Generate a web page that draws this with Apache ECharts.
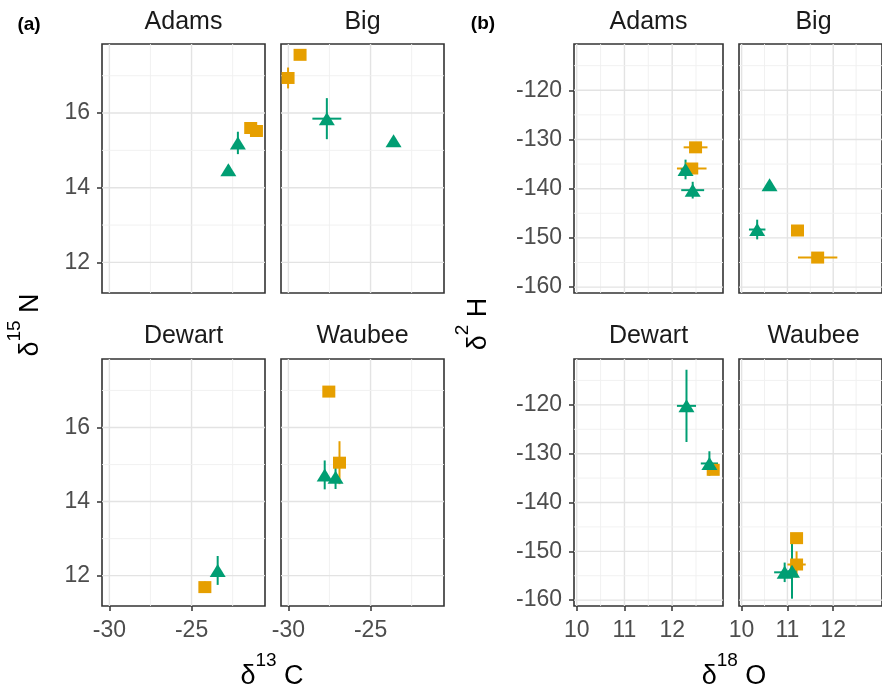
<!DOCTYPE html>
<html>
<head>
<meta charset="utf-8">
<script src="https://cdn.jsdelivr.net/npm/echarts@6/dist/echarts.min.js"></script>
<style>
  html, body { margin: 0; padding: 0; background: #fff; }
  #chart { width: 882px; height: 689px; }
</style>
</head>
<body>
<div id="chart"></div>
<script>
// facets, in reading order
const sites = ['Adams', 'Big', 'Dewart', 'Waubee'];

// (a) d13C / d15N points: [x, y, xErr, yErr]
const cnAdamsSq = [[-21.4, 15.6, 0.1, 0.08], [-21.05, 15.52, 0.1, 0.08]];
const cnAdamsTri = [[-22.18, 15.2, 0.1, 0.3], [-22.76, 14.48, 0.1, 0.12]];
const cnBigSq = [[-29.29, 17.56, 0.1, 0.05], [-30.02, 16.94, 0.05, 0.28]];
const cnBigTri = [[-27.66, 15.85, 0.88, 0.55], [-23.6, 15.26, 0.1, 0.05]];
const cnDewartSq = [[-24.19, 11.69, 0.05, 0.15]];
const cnDewartTri = [[-23.41, 12.14, 0.05, 0.39]];
const cnWaubeeSq = [[-27.54, 16.97, 0.05, 0.05], [-26.89, 15.05, 0.35, 0.58]];
const cnWaubeeTri = [[-27.79, 14.72, 0.05, 0.39], [-27.13, 14.66, 0.15, 0.32]];

// (b) d18O / d2H points: [x, y, xErr, yErr]
const ohAdamsSq = [[12.49, -131.6, 0.25, 0.5], [12.41, -135.9, 0.31, 0.5]];
const ohAdamsTri = [[12.28, -136.1, 0.1, 2.0], [12.43, -140.3, 0.24, 1.7]];
const ohBigSq = [[11.22, -148.5, 0.05, 0.5], [11.66, -154.0, 0.43, 0.5]];
const ohBigTri = [[10.61, -139.2, 0.05, 0.5], [10.34, -148.3, 0.18, 2.0]];
const ohDewartSq = [[12.86, -133.3, 0.08, 1.0]];
const ohDewartTri = [[12.30, -120.2, 0.2, 7.4], [12.78, -132.0, 0.18, 2.5]];
const ohWaubeeSq = [[11.20, -147.3, 0.05, 0.5], [11.20, -152.7, 0.2, 2.7]];
const ohWaubeeTri = [[11.10, -154.1, 0.1, 5.6], [10.94, -154.3, 0.23, 2.0]];

// tick labels and grid breaks
const cnXTicks = [-30, -25];
const cnXMinor = [-27.5, -22.5];
const cnYTicks = [12, 14, 16];
const cnYMinor = [13, 15, 17];
const ohXTicks = [10, 11, 12];
const ohXMinor = [10.5, 11.5, 12.5];
const ohYTicks = [-160, -150, -140, -130, -120];
const ohYMinor = [-155, -145, -135, -125, -115];

const font = '"Liberation Sans", Arial, sans-serif';
const orange = '#E69F00';
const green = '#009E73';

const panels = [
  {
    xMin: -30.45, xMax: -20.53, yMin: 11.18, yMax: 17.85,
    xTicks: cnXTicks, xMinor: cnXMinor, yTicks: cnYTicks, yMinor: cnYMinor,
    lefts: [102, 281], width: 163,
    sq: [cnAdamsSq, cnBigSq, cnDewartSq, cnWaubeeSq],
    tri: [cnAdamsTri, cnBigTri, cnDewartTri, cnWaubeeTri]
  },
  {
    xMin: 9.943, xMax: 13.065, yMin: -161.2, yMax: -110.6,
    xTicks: ohXTicks, xMinor: ohXMinor, yTicks: ohYTicks, yMinor: ohYMinor,
    lefts: [574, 739], width: 149,
    sq: [ohAdamsSq, ohBigSq, ohDewartSq, ohWaubeeSq],
    tri: [ohAdamsTri, ohBigTri, ohDewartTri, ohWaubeeTri]
  }
];
const tops = [44, 359];
const heights = [249, 247];

const grids = [], xAxes = [], yAxes = [], series = [], graphics = [];

function errBars(params, api) {
  const x = api.value(0), y = api.value(1), ex = api.value(2), ey = api.value(3);
  const c = api.visual('color');
  const v0 = api.coord([x, y - ey]), v1 = api.coord([x, y + ey]);
  const h0 = api.coord([x - ex, y]), h1 = api.coord([x + ex, y]);
  return {
    type: 'group',
    children: [
      { type: 'line', shape: { x1: v0[0], y1: v0[1], x2: v1[0], y2: v1[1] }, style: { stroke: c, lineWidth: 2 } },
      { type: 'line', shape: { x1: h0[0], y1: h0[1], x2: h1[0], y2: h1[1] }, style: { stroke: c, lineWidth: 2 } }
    ]
  };
}

function gridLines(p) {
  return function (params, api) {
    const cs = params.coordSys;
    const v = api.value(0), horiz = api.value(1), major = api.value(2);
    const style = { stroke: major ? '#e3e3e3' : '#efefef', lineWidth: major ? 1.4 : 0.9 };
    if (horiz) {
      const py = api.coord([p.xMin, v])[1];
      return { type: 'line', shape: { x1: cs.x, y1: py, x2: cs.x + cs.width, y2: py }, style: style };
    }
    const px = api.coord([v, p.yMin])[0];
    return { type: 'line', shape: { x1: px, y1: cs.y, x2: px, y2: cs.y + cs.height }, style: style };
  };
}

panels.forEach(function (p, pi) {
  const lineData = []
    .concat(p.xTicks.map(v => [v, 0, 1]), p.xMinor.map(v => [v, 0, 0]))
    .concat(p.yTicks.map(v => [v, 1, 1]), p.yMinor.map(v => [v, 1, 0]));
  sites.forEach(function (site, si) {
    const col = si % 2, row = Math.floor(si / 2);
    const gi = grids.length;
    grids.push({
      left: p.lefts[col], top: tops[row], width: p.width, height: heights[row],
      show: true, borderColor: '#333', borderWidth: 1.6, backgroundColor: 'transparent'
    });
    xAxes.push({
      type: 'value', gridIndex: gi, min: p.xMin, max: p.xMax,
      axisLine: { show: false }, splitLine: { show: false },
      axisTick: { show: row === 1, length: 5, lineStyle: { color: '#333', width: 1.5 }, customValues: p.xTicks },
      axisLabel: { show: row === 1, customValues: p.xTicks, margin: 13, color: '#4d4d4d', fontSize: 23, fontFamily: font }
    });
    yAxes.push({
      type: 'value', gridIndex: gi, min: p.yMin, max: p.yMax,
      axisLine: { show: false }, splitLine: { show: false },
      axisTick: { show: col === 0, length: 5, lineStyle: { color: '#333', width: 1.5 }, customValues: p.yTicks },
      axisLabel: { show: col === 0, customValues: p.yTicks, margin: 12, color: '#4d4d4d', fontSize: 23, fontFamily: font }
    });
    series.push({
      type: 'custom', xAxisIndex: gi, yAxisIndex: gi, silent: true, z: 1,
      renderItem: gridLines(p), data: lineData
    });
    series.push({
      type: 'custom', xAxisIndex: gi, yAxisIndex: gi, z: 2,
      itemStyle: { color: orange }, renderItem: errBars, data: p.sq[si]
    });
    series.push({
      type: 'custom', xAxisIndex: gi, yAxisIndex: gi, z: 2,
      itemStyle: { color: green }, renderItem: errBars, data: p.tri[si]
    });
    series.push({
      type: 'scatter', xAxisIndex: gi, yAxisIndex: gi, z: 3,
      symbol: 'rect', symbolSize: [13, 12], itemStyle: { color: orange, opacity: 1 },
      data: p.sq[si].map(d => [d[0], d[1]])
    });
    series.push({
      type: 'scatter', xAxisIndex: gi, yAxisIndex: gi, z: 3,
      symbol: 'triangle', symbolSize: [16, 13], itemStyle: { color: green, opacity: 1 },
      data: p.tri[si].map(d => [d[0], d[1]])
    });
    graphics.push({
      type: 'text', x: p.lefts[col] + p.width / 2, y: row === 0 ? 22.5 : 336.5,
      style: { text: site, fontSize: 25, fontFamily: font, fill: '#1a1a1a', align: 'center', verticalAlign: 'middle' }
    });
  });
});

function titleRich() {
  return {
    d: { fontSize: 27, fontFamily: font, lineHeight: 28, padding: [12, 0, 0, 0], color: '#000' },
    s: { fontSize: 19, fontFamily: font, lineHeight: 20, padding: [0, 0, 20, 0], color: '#000' }
  };
}

graphics.push(
  { type: 'text', x: 29, y: 25, style: { text: '(a)', fontSize: 19, fontWeight: 'bold', fontFamily: font, fill: '#000', align: 'center', verticalAlign: 'middle' } },
  { type: 'text', x: 483, y: 24, style: { text: '(b)', fontSize: 19, fontWeight: 'bold', fontFamily: font, fill: '#000', align: 'center', verticalAlign: 'middle' } },
  { type: 'text', x: 272, y: 671, style: { text: '{d|δ}{s|13}{d| C}', rich: titleRich(), align: 'center', verticalAlign: 'middle' } },
  { type: 'text', x: 734, y: 671, style: { text: '{d|δ}{s|18}{d| O}', rich: titleRich(), align: 'center', verticalAlign: 'middle' } },
  { type: 'text', x: 25, y: 325, rotation: Math.PI / 2, style: { text: '{d|δ}{s|15}{d| N}', rich: titleRich(), align: 'center', verticalAlign: 'middle' } },
  { type: 'text', x: 473, y: 324, rotation: Math.PI / 2, style: { text: '{d|δ}{s|2}{d| H}', rich: titleRich(), align: 'center', verticalAlign: 'middle' } }
);

const chart = echarts.init(document.getElementById('chart'));
chart.setOption({
  backgroundColor: '#fff',
  animation: false,
  grid: grids,
  xAxis: xAxes,
  yAxis: yAxes,
  series: series,
  graphic: graphics
});
window.addEventListener('resize', function () { chart.resize(); });
</script>
</body>
</html>
